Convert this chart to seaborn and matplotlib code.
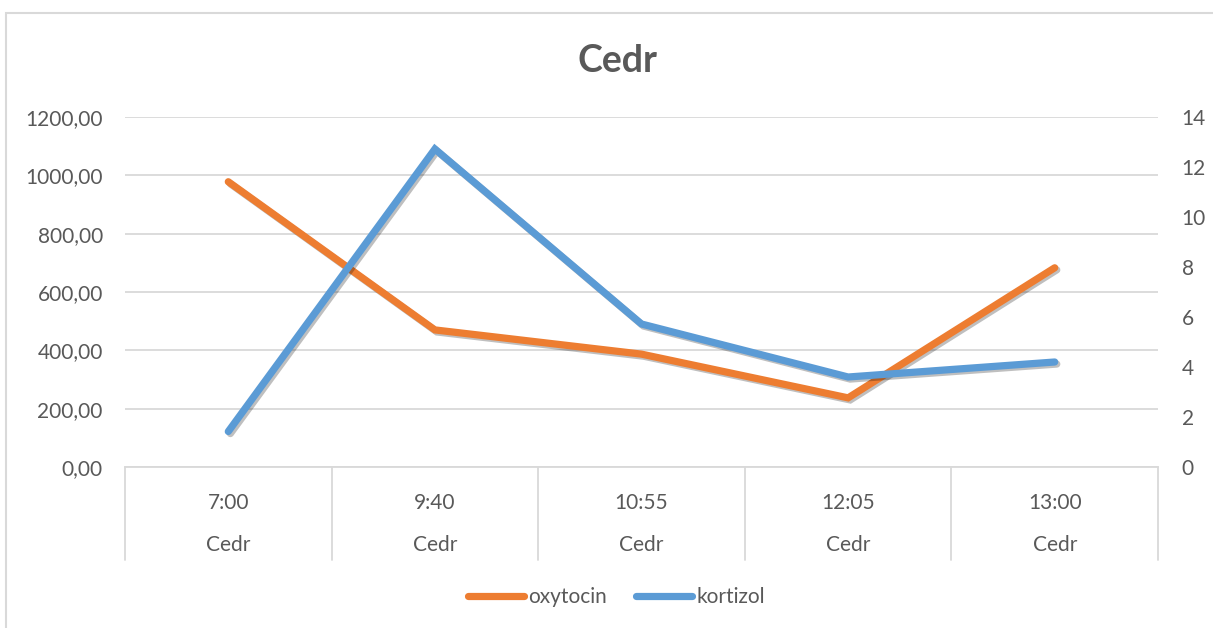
import matplotlib
matplotlib.use("Agg")
import matplotlib.pyplot as plt
import matplotlib.patheffects as pe
from matplotlib.patches import Rectangle
from matplotlib.lines import Line2D
import numpy as np
import pandas as pd
import seaborn as sns

times = ['7:00', '9:40', '10:55', '12:05', '13:00']
groups = ['Cedr', 'Cedr', 'Cedr', 'Cedr', 'Cedr']
oxytocin = [978, 470, 387, 237, 683]
kortizol = [1.42, 12.72, 5.72, 3.6, 4.2]
left_ticks = [0, 200, 400, 600, 800, 1000, 1200]
right_ticks = [0, 2, 4, 6, 8, 10, 12, 14]

ORANGE = '#ED7D31'
BLUE = '#5B9BD5'
TXT = '#595959'
GRID = '#D9D9D9'
FS = 15

sns.set_theme(style='white')
plt.rcParams['font.family'] = ['Lato', 'DejaVu Sans']

df = pd.DataFrame({'pos': np.arange(len(times)), 'oxytocin': oxytocin, 'kortizol': kortizol})

fig = plt.figure(figsize=(12.13, 6.28), dpi=100)
fig.patches.append(Rectangle((6 / 1213, -0.1), 1.2, 1 - 13 / 628 + 0.1, transform=fig.transFigure,
                             fill=False, edgecolor=GRID, linewidth=1.5))
ax = fig.add_axes([125 / 1213, 1 - 467 / 628, (1158 - 125) / 1213, 350 / 628])
ax2 = ax.twinx()

shadow = [pe.SimpleLineShadow(offset=(1.5, -1.5), alpha=0.25, shadow_color='black'), pe.Normal()]
sns.lineplot(data=df, x='pos', y='oxytocin', ax=ax, color=ORANGE, linewidth=5.2,
             solid_capstyle='round', solid_joinstyle='miter', path_effects=shadow)
sns.lineplot(data=df, x='pos', y='kortizol', ax=ax2, color=BLUE, linewidth=5.2,
             solid_capstyle='round', solid_joinstyle='miter', path_effects=shadow)

ax.set_xlim(-0.5, len(times) - 0.5)
ax.set_ylim(0, 1200)
ax2.set_ylim(0, 14)
ax.set_yticks(left_ticks)
ax.set_yticklabels([f'{v:.2f}'.replace('.', ',') for v in left_ticks])
ax2.set_yticks(right_ticks)
ax2.set_yticklabels([str(v) for v in right_ticks])
ax.yaxis.grid(True, color=GRID, linewidth=1.3)
ax.set_axisbelow(True)
ax.set_xticks([])
ax.set_xlabel('')
ax.set_ylabel('')
ax2.set_ylabel('')
ax.tick_params(axis='y', length=0, pad=16, labelsize=FS, labelcolor=TXT)
ax2.tick_params(axis='y', length=0, pad=17, labelsize=FS, labelcolor=TXT)
for a in (ax, ax2):
    for s in a.spines.values():
        s.set_visible(False)
ax.spines['bottom'].set_visible(True)
ax.spines['bottom'].set_color(GRID)
ax.spines['bottom'].set_linewidth(1.3)

# two-level category axis
for b in np.arange(len(times) + 1) - 0.5:
    ax.plot([b, b], [0, -0.266], transform=ax.get_xaxis_transform(), color=GRID,
            linewidth=1.3, clip_on=False)
for i, (t, g) in enumerate(zip(times, groups)):
    ax.text(i, -0.103, t, transform=ax.get_xaxis_transform(), ha='center', va='center',
            fontsize=FS, color=TXT)
    ax.text(i, -0.223, g, transform=ax.get_xaxis_transform(), ha='center', va='center',
            fontsize=FS, color=TXT)

fig.text(0.509, 1 - 61 / 628, 'Cedr', ha='center', va='center', fontsize=27,
         fontweight='bold', color=TXT)

handles = [Line2D([], [], color=ORANGE, linewidth=5.2, solid_capstyle='round'),
           Line2D([], [], color=BLUE, linewidth=5.2, solid_capstyle='round')]
fig.legend(handles, ['oxytocin', 'kortizol'], loc='center', bbox_to_anchor=(0.508, 1 - 597 / 628),
           ncol=2, frameon=False, fontsize=FS, handlelength=2.7, handletextpad=0.2,
           columnspacing=1.4, labelcolor=TXT)

fig.savefig('out.png', dpi=100)
